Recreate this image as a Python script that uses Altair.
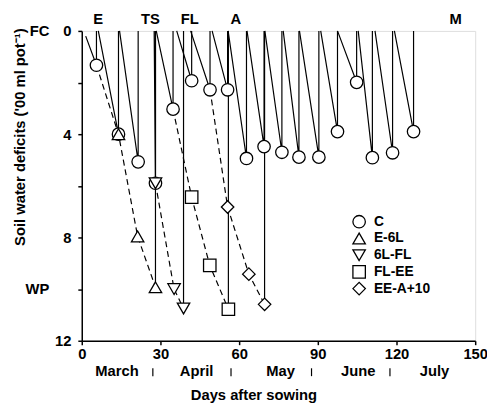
import altair as alt
import pandas as pd

FONT = "Liberation Sans"

# ---- Control (C): bottom of each drying cycle ----
C_day = [5.6, 14.0, 21.5, 28.1, 34.8, 41.9, 48.9, 55.6, 62.8, 69.5, 76.3, 82.8, 90.4, 97.5, 104.8, 110.8, 118.5, 126.5]
C_def = [1.33, 4.0, 5.07, 5.9, 3.03, 1.93, 2.28, 2.28, 4.94, 4.48, 4.7, 4.89, 4.89, 3.9, 1.99, 4.91, 4.72, 3.9]
# day each drying cycle starts from field capacity
C_start = [1.5, 6.3, 14.4, 27.6, 28.4, 36.2, 41.5, 49.7, 55.8, 63.0, 69.8, 76.8, 83.0, 91.1, 97.5, 105.4, 111.8, 119.2]
C_start_def = 0.2

# ---- Stress treatments ----
E6L_from = (5.6, 1.33)
E6L_day = [14.0, 21.3, 28.1]
E6L_def = [4.0, 7.96, 9.93]

L6FL_from = (28.1, 5.9)
L6FL_day = [28.1, 35.2, 38.8]
L6FL_def = [5.9, 10.0, 10.75]

FLEE_from = (34.8, 3.03)
FLEE_day = [41.9, 48.8, 55.9]
FLEE_def = [6.44, 9.08, 10.78]

EEA_from = (48.9, 2.28)
EEA_day = [55.6, 63.7, 69.7]
EEA_def = [6.82, 9.42, 10.59]

series_names = ["C", "E-6L", "6L-FL", "FL-EE", "EE-A+10"]
series_shapes = ["circle", "triangle-up", "triangle-down", "square", "diamond"]

stage_lab = ["E", "TS", "FL", "A", "M"]
stage_day = [6.3, 26.2, 41.2, 58.7, 142.5]

month_lab = ["March", "April", "May", "June", "July"]
month_day = [13.4, 43.8, 75.8, 105.4, 134.5]
sep_day = [27.1, 56.9, 87.6, 117.5]

x_ticks = [0, 30, 60, 90, 120, 150]
y_ticks = [0, 2, 4, 6, 8, 10, 12]
y_side_lab = ["FC", "WP"]
y_side_val = [0, 10]

x_title = "Days after sowing"
y_title = "Soil water deficits ('00 ml pot\u207b\u00b9)"

# ---- build line tables ----
solid_rows, dash_rows = [], []
ordn = 0
def add(rows, path, d, v):
    global ordn
    if rows and rows[-1]["path"] == path and rows[-1]["day"] == d and rows[-1]["deficit"] == v:
        return
    rows.append({"path": path, "ord": ordn, "day": d, "deficit": v})
    ordn += 1

for i in range(len(C_day)):
    p = "C%d" % i
    add(solid_rows, p, C_start[i], C_start_def if i == 0 else 0)
    add(solid_rows, p, C_day[i], C_def[i])
    add(solid_rows, p, C_day[i], 0)

stress = [("E-6L", E6L_from, E6L_day, E6L_def),
          ("6L-FL", L6FL_from, L6FL_day, L6FL_def),
          ("FL-EE", FLEE_from, FLEE_day, FLEE_def),
          ("EE-A+10", EEA_from, EEA_day, EEA_def)]
for name, fr, ds, vs in stress:
    add(dash_rows, name, fr[0], fr[1])
    for d, v in zip(ds, vs):
        add(dash_rows, name, d, v)
    add(solid_rows, name + "-rw", ds[-1], vs[-1])
    add(solid_rows, name + "-rw", ds[-1], 0)

solid_df = pd.DataFrame(solid_rows)
dash_df = pd.DataFrame(dash_rows)

prow = []
for d, v in zip(C_day, C_def):
    prow.append({"series": "C", "day": d, "deficit": v})
for name, fr, ds, vs in stress:
    for d, v in zip(ds, vs):
        prow.append({"series": name, "day": d, "deficit": v})
pts_df = pd.DataFrame(prow)

xscale = alt.Scale(domain=[0, 150], nice=False, zero=False)
yscale = alt.Scale(domain=[0, 12], reverse=True, nice=False, zero=False)

axis_common = dict(grid=False, domainColor="black", tickColor="black", domainWidth=1.5,
                   tickWidth=1.5, tickSize=4, labelFont=FONT, labelFontSize=15,
                   labelFontWeight="bold", labelColor="black", title=None)

X = alt.X("day:Q", scale=xscale, axis=alt.Axis(values=x_ticks, labelPadding=2, labelFlush=False, **axis_common))
Y = alt.Y("deficit:Q", scale=yscale,
          axis=alt.Axis(values=y_ticks, labelPadding=7, labelFlush=False,
                        labelExpr="datum.value % 4 == 0 ? datum.label : ''", **axis_common))

solid_lines = alt.Chart(solid_df).mark_line(color="black", strokeWidth=1.2, strokeJoin="bevel").encode(
    x=X, y=Y, detail="path:N", order="ord:Q")

dash_lines = alt.Chart(dash_df).mark_line(color="black", strokeWidth=1.2, strokeJoin="bevel",
                                          strokeDash=[6, 4]).encode(
    x=X, y=Y, detail="path:N", order="ord:Q")

pt_style = dict(filled=False, fill="white", fillOpacity=1, color="black", strokeWidth=1.3, size=160, opacity=1)

points = alt.Chart(pts_df).mark_point(**pt_style).encode(
    x=X, y=Y,
    shape=alt.Shape("series:N", scale=alt.Scale(domain=series_names, range=series_shapes), legend=None),
)

txt = dict(font=FONT, fontWeight="bold", color="black")

# legend drawn as a key of symbols and names
LEG_X, LEG_Y, LEG_DY = 282, 194, 17
legend_layers = []
for i, (nm, sh) in enumerate(zip(series_names, series_shapes)):
    kdf = pd.DataFrame({"lab": [nm]})
    legend_layers.append(alt.Chart(kdf).mark_point(shape=sh, **pt_style).encode(
        x=alt.value(LEG_X), y=alt.value(LEG_Y + LEG_DY * i)))
    legend_layers.append(alt.Chart(kdf).mark_text(fontSize=14, align="left", baseline="middle", **txt).encode(
        x=alt.value(LEG_X + 15), y=alt.value(LEG_Y + LEG_DY * i), text="lab:N"))

stages = alt.Chart(pd.DataFrame({"lab": stage_lab, "day": stage_day})).mark_text(
    fontSize=15, baseline="middle", **txt).encode(x=alt.X("day:Q", scale=xscale), y=alt.value(-12), text="lab:N")

months = alt.Chart(pd.DataFrame({"lab": month_lab, "day": month_day})).mark_text(
    fontSize=15, baseline="middle", **txt).encode(x=alt.X("day:Q", scale=xscale), y=alt.value(346), text="lab:N")

seps = alt.Chart(pd.DataFrame({"day": sep_day})).mark_rule(color="black", strokeWidth=1.2).encode(
    x=alt.X("day:Q", scale=xscale), y=alt.value(343), y2=alt.value(351))

side = alt.Chart(pd.DataFrame({"lab": y_side_lab, "deficit": y_side_val})).mark_text(
    fontSize=15, align="right", baseline="middle", **txt).encode(
    x=alt.value(-33), y=alt.Y("deficit:Q", scale=yscale), text="lab:N")

xt = alt.Chart(pd.DataFrame({"t": [x_title]})).mark_text(
    fontSize=15, align="center", baseline="middle", **txt).encode(
    x=alt.value(175), y=alt.value(370), text="t:N")

yt = alt.Chart(pd.DataFrame({"t": [y_title]})).mark_text(
    fontSize=15, align="center", baseline="middle", angle=270, **txt).encode(
    x=alt.value(-63), y=alt.value(108), text="t:N")

chart = alt.layer(solid_lines, dash_lines, points, stages, months, seps, side, xt, yt, *legend_layers).properties(
    width=400, height=315,
    autosize=alt.AutoSizeParams(type="none"),
    padding={"left": 75, "top": 20, "right": 12, "bottom": 60},
).configure_view(stroke="black", strokeWidth=1.3).configure(background="white")

chart.save("out.html", embed_options={"renderer": "svg", "actions": False})
